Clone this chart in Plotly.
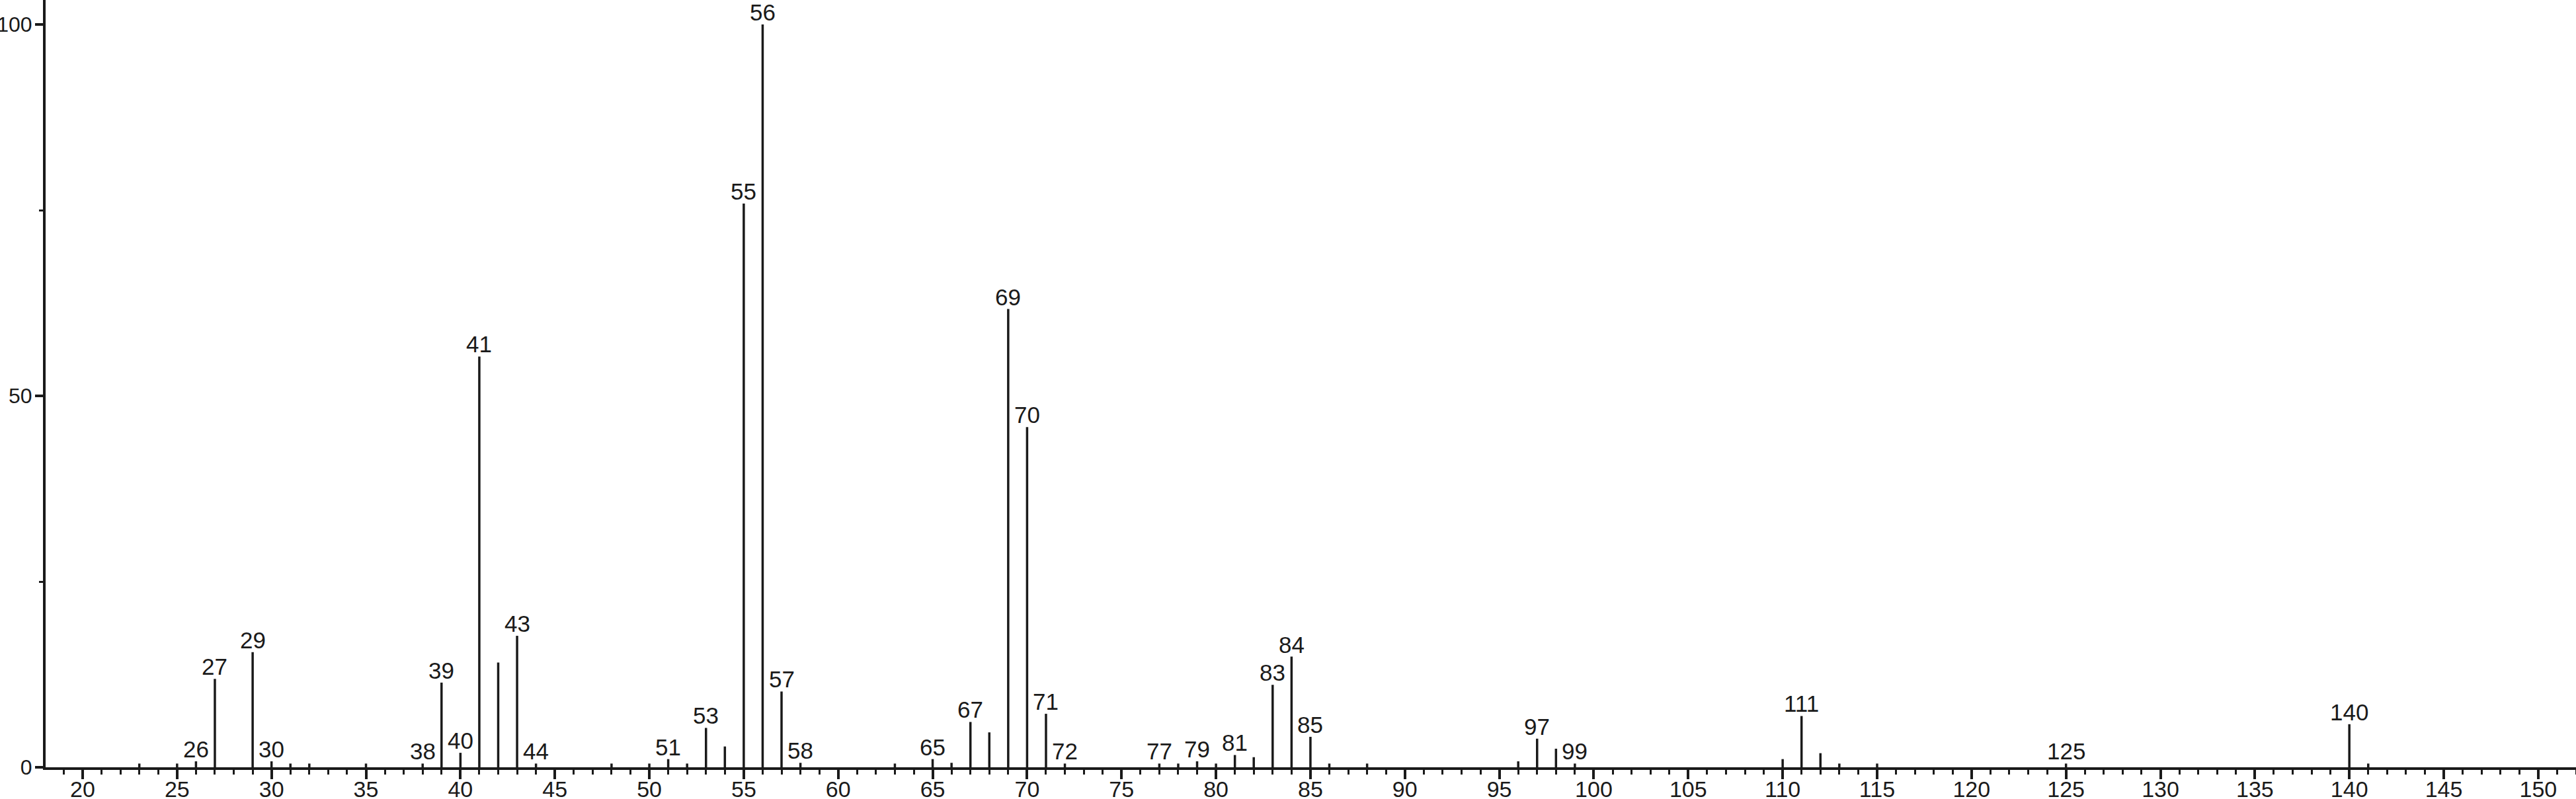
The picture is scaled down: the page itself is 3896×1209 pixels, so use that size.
import plotly.graph_objects as go

# m/z values and relative intensities (%)
mz = [23, 25, 26, 27, 29, 30, 31, 32, 35, 38, 39, 40, 41, 42, 43, 44,
      48, 50, 51, 52, 53, 54, 55, 56, 57, 58, 63, 65, 66, 67, 68, 69, 70, 71, 72,
      77, 78, 79, 80, 81, 82, 83, 84, 85, 86, 88, 96, 97, 98, 99,
      110, 111, 112, 113, 115, 125, 140, 141]
intensity = [0.5, 0.5, 0.8, 11.9, 15.5, 0.8, 0.5, 0.5, 0.5, 0.5, 11.4, 1.95, 55.3, 14.1, 17.7, 0.5,
             0.5, 0.5, 1.1, 0.5, 5.3, 2.8, 75.9, 100.0, 10.2, 0.6, 0.5, 1.1, 0.6, 6.1, 4.7, 61.7, 45.8, 7.2, 0.5,
             0.5, 0.5, 0.8, 0.5, 1.65, 1.36, 11.1, 14.9, 4.1, 0.5, 0.5, 0.8, 3.85, 2.5, 0.5,
             1.1, 6.9, 1.9, 0.5, 0.5, 0.5, 5.8, 0.5]
labeled_mz = [26, 27, 29, 30, 38, 39, 40, 41, 43, 44, 51, 53, 55, 56, 57, 58, 65, 67, 69, 70, 71, 72,
              77, 79, 81, 83, 84, 85, 97, 99, 111, 125, 140]

x_major_ticks = list(range(20, 151, 5))
y_major_ticks = [0, 50, 100]

INK = "#1a1a1a"
FAMILY = "Liberation Sans, Arial, sans-serif"
FONT = dict(family=FAMILY, size=35, color=INK)
XFONT = dict(family=FAMILY, size=34, color=INK)
YFONT = dict(family=FAMILY, size=32, color=INK)

xs, ys = [], []
for m, h in zip(mz, intensity):
    xs += [m, m, None]
    ys += [0, h, None]

fig = go.Figure()
fig.add_trace(go.Scatter(x=xs, y=ys, mode="lines",
                         line=dict(color=INK, width=3.5),
                         hoverinfo="skip", showlegend=False))

lookup = dict(zip(mz, intensity))
for m in labeled_mz:
    fig.add_annotation(x=m, y=lookup[m], text=str(m), showarrow=False,
                       xref="x", yref="y", xanchor="center", yanchor="bottom",
                       yshift=-3, font=FONT)

fig.update_layout(
    width=3896, height=1209,
    margin=dict(l=69, r=0, t=0, b=48, autoexpand=False),
    paper_bgcolor="white", plot_bgcolor="white",
    font=FONT,
    xaxis=dict(range=[18.04, 152.0], tickvals=x_major_ticks,
               ticktext=[str(v) for v in x_major_ticks],
               ticks="outside", ticklen=14, tickwidth=3.5, tickcolor=INK,
               minor=dict(dtick=1, tick0=0, ticks="outside", ticklen=7,
                          tickwidth=3, tickcolor=INK),
               showline=True, linewidth=4, linecolor=INK,
               showgrid=False, zeroline=False, tickfont=XFONT,
               automargin=False, ticklabelstandoff=-14),
    yaxis=dict(range=[0, 103.3], tickvals=y_major_ticks,
               ticktext=[str(v) for v in y_major_ticks],
               ticks="outside", ticklen=12, tickwidth=3.5, tickcolor=INK,
               minor=dict(tickvals=[25, 75], ticks="outside", ticklen=6,
                          tickwidth=3, tickcolor=INK),
               showline=True, linewidth=4, linecolor=INK,
               showgrid=False, zeroline=False, tickfont=YFONT,
               automargin=False, ticklabelstandoff=-2),
)

fig.write_html("out.html", config={"displayModeBar": False},
               post_script="document.body.style.margin='0';document.body.style.padding='0';document.body.style.overflow='hidden';")
